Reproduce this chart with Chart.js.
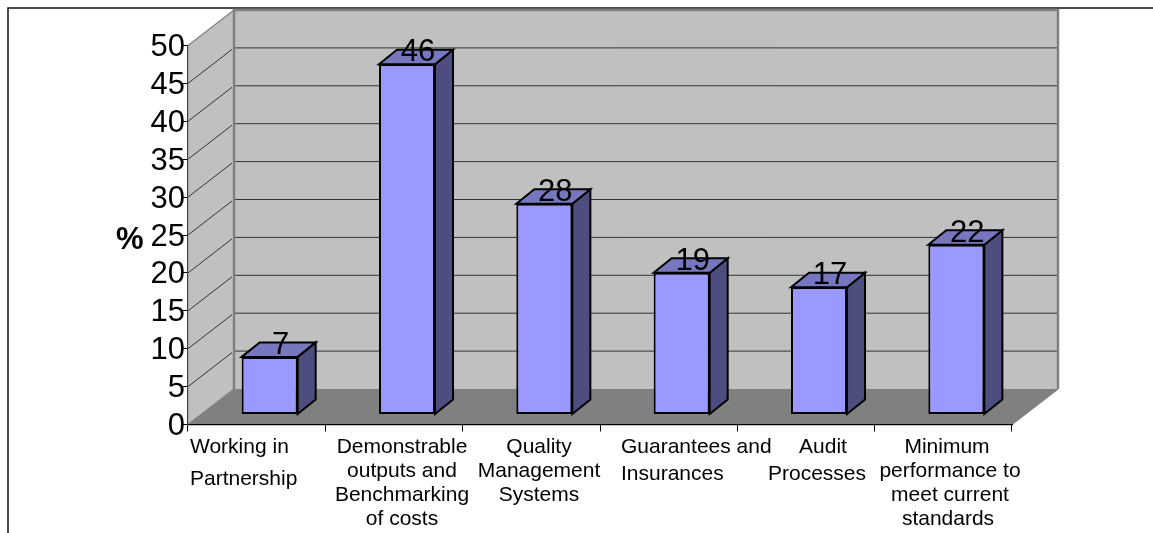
<!DOCTYPE html>
<html>
<head>
<meta charset="utf-8">
<style>
html, body { margin: 0; padding: 0; background: #fff; }
#wrap { position: absolute; left: 0; top: 0; width: 1153px; height: 533px; }
</style>
<script src="https://cdn.jsdelivr.net/npm/chart.js@4"></script>
</head>
<body>
<div id="wrap"><canvas id="chart"></canvas></div>
<script>
// labels, values
var categories = ["Working in Partnership", "Demonstrable outputs and Benchmarking of costs", "Quality Management Systems", "Guarantees and Insurances", "Audit Processes", "Minimum performance to meet current standards"];
var categoryLines = [
    ["Working in", "Partnership"],
    ["Demonstrable", "outputs and", "Benchmarking", "of costs"],
    ["Quality", "Management", "Systems"],
    ["Guarantees and", "Insurances"],
    ["Audit", "Processes"],
    ["Minimum", "performance to", "meet current", "standards"]
];
var barValues = [7.6, 46.2, 27.8, 18.7, 16.8, 22.4];
var valueLabels = ["7", "46", "28", "19", "17", "22"];
var yTicks = [0, 5, 10, 15, 20, 25, 30, 35, 40, 45, 50];
var yUnit = "%";

// per category text placement, the original has uneven wrapping
var labelLayout = [
    { x: [190, 190], align: "left", lineHeight: 32 },
    { x: [402, 402, 402, 402], align: "center", lineHeight: 24 },
    { x: [539, 539, 539], align: "center", lineHeight: 24 },
    { x: [621, 621], align: "left", lineHeight: 27.5 },
    { x: [823, 817], align: "center", lineHeight: 27.5 },
    { x: [947, 950, 950, 948], align: "center", lineHeight: 24 }
];

var FONT = '"Liberation Sans", Arial, sans-serif';
var WALL_DX = 46, WALL_DY = -35.5;   // floor depth
var BAR_DX = 13, BAR_DY = -10;       // bars sit inside the floor
var SIDE_DX = 18, SIDE_DY = -14.5;   // depth of one bar

function poly(ctx, pts, fill, stroke, lw) {
    ctx.beginPath();
    pts.forEach(function(p, i) {
        if (i == 0) ctx.moveTo(p[0], p[1]);
        else ctx.lineTo(p[0], p[1]);
    });
    ctx.closePath();
    if (fill) {
        ctx.fillStyle = fill;
        ctx.fill();
    }
    if (stroke) {
        ctx.strokeStyle = stroke;
        ctx.lineWidth = lw;
        ctx.stroke();
    }
}

var box3d = {
    id: "box3d",
    afterUpdate: function(chart) {
        // tick numbers sit a little under their ticks in the original
        chart.scales.y.getLabelItems().forEach(function(item) {
            item.options.translation[1] += 2;
        });
    },
    beforeDraw: function(chart) {
        var ctx = chart.ctx, a = chart.chartArea, y = chart.scales.y;
        var l = a.left, r = a.right, t = y.getPixelForValue(50), b = y.getPixelForValue(0);
        ctx.save();

        // page frame
        ctx.strokeStyle = "#111";
        ctx.lineWidth = 1.5;
        ctx.beginPath();
        ctx.moveTo(8, 533);
        ctx.lineTo(8, 8);
        ctx.lineTo(1153, 8);
        ctx.stroke();

        // walls and floor
        poly(ctx, [[l + WALL_DX, t + WALL_DY], [r + WALL_DX, t + WALL_DY], [r + WALL_DX, b + WALL_DY], [l + WALL_DX, b + WALL_DY]], "#c0c0c0");
        poly(ctx, [[l, t], [l + WALL_DX, t + WALL_DY], [l + WALL_DX, b + WALL_DY], [l, b]], "#c0c0c0");
        poly(ctx, [[l, b], [l + WALL_DX, b + WALL_DY], [r + WALL_DX, b + WALL_DY], [r, b]], "#808080");

        // grid on the walls
        yTicks.forEach(function(v) {
            if (v == 0 || v == 50) return;
            var py = y.getPixelForValue(v);
            ctx.strokeStyle = "#333";
            ctx.lineWidth = 1;
            ctx.beginPath();
            ctx.moveTo(l, py);
            ctx.lineTo(l + WALL_DX - 2, py + WALL_DY + 1.5);
            ctx.moveTo(l + WALL_DX, py + WALL_DY);
            ctx.lineTo(r + WALL_DX, py + WALL_DY);
            ctx.stroke();
        });

        // wall edges
        ctx.strokeStyle = "#808080";
        ctx.lineWidth = 2.5;
        ctx.beginPath();
        ctx.moveTo(l + WALL_DX, b + WALL_DY);
        ctx.lineTo(l + WALL_DX, t + WALL_DY);
        ctx.lineTo(r + WALL_DX, t + WALL_DY);
        ctx.lineTo(r + WALL_DX, b + WALL_DY);
        ctx.stroke();
        ctx.lineWidth = 1.2;
        ctx.beginPath();
        ctx.moveTo(l, t);
        ctx.lineTo(l + WALL_DX, t + WALL_DY);
        ctx.moveTo(l, b);
        ctx.lineTo(l + WALL_DX, b + WALL_DY);
        ctx.moveTo(r, b);
        ctx.lineTo(r + WALL_DX, b + WALL_DY);
        ctx.stroke();
        ctx.restore();
    },
    beforeDatasetsDraw: function(chart) {
        var ctx = chart.ctx;
        ctx.save();
        ctx.translate(BAR_DX, BAR_DY);
        ctx.lineJoin = "miter";
        // faces behind the front one
        chart.getDatasetMeta(0).data.forEach(function(bar) {
            var p = bar.getProps(["x", "y", "base", "width"], true);
            var x0 = p.x - p.width / 2, x1 = p.x + p.width / 2;
            poly(ctx, [[x1, p.y], [x1 + SIDE_DX, p.y + SIDE_DY], [x1 + SIDE_DX, p.base + SIDE_DY], [x1, p.base]], "#4d4d80", "#000", 2);
            poly(ctx, [[x0, p.y], [x0 + SIDE_DX, p.y + SIDE_DY], [x1 + SIDE_DX, p.y + SIDE_DY], [x1, p.y]], "#7777bf", "#000", 2);
        });
    },
    afterDatasetsDraw: function(chart) {
        var ctx = chart.ctx;
        // value labels, still inside the bar shift
        ctx.fillStyle = "#000";
        ctx.font = "31px " + FONT;
        ctx.textAlign = "center";
        ctx.textBaseline = "middle";
        chart.getDatasetMeta(0).data.forEach(function(bar, i) {
            var p = bar.getProps(["x", "y"], true);
            ctx.fillText(valueLabels[i], p.x + 11, p.y - 11.5);
        });
        ctx.restore();

        // category labels
        var b = chart.scales.y.getPixelForValue(0);
        ctx.save();
        ctx.fillStyle = "#000";
        ctx.font = "21px " + FONT;
        ctx.textBaseline = "middle";
        categoryLines.forEach(function(lines, i) {
            var lay = labelLayout[i];
            ctx.textAlign = lay.align;
            lines.forEach(function(line, j) {
                ctx.fillText(line, lay.x[j], b + 22.5 + j * lay.lineHeight);
            });
        });

        // unit next to the axis
        ctx.font = "bold 31px " + FONT;
        ctx.textAlign = "left";
        ctx.fillText(yUnit, 116, chart.scales.y.getPixelForValue(25) + 5);
        ctx.restore();
    }
};

var chart = new Chart(document.getElementById("chart"), {
    type: "bar",
    data: {
        labels: categories,
        datasets: [{
            data: barValues,
            backgroundColor: "#9999ff",
            borderColor: "#000",
            borderWidth: 2,
            borderSkipped: false,
            barPercentage: 0.408,
            categoryPercentage: 1,
            clip: false
        }]
    },
    options: {
        responsive: true,
        maintainAspectRatio: false,
        animation: false,
        events: [],
        layout: { padding: { top: 45.5, right: 141, left: 0, bottom: 0 } },
        plugins: {
            legend: { display: false },
            title: { display: false },
            tooltip: { enabled: false }
        },
        scales: {
            x: {
                grid: { drawOnChartArea: false, color: "#000", tickLength: 7, offset: true },
                border: { color: "#000", width: 1.2 },
                ticks: { display: false },
                afterFit: function(scale) { scale.height = 108.5; }
            },
            y: {
                min: 0,
                max: 50,
                afterBuildTicks: function(scale) {
                    scale.ticks = yTicks.map(function(v) { return { value: v }; });
                },
                grid: { drawOnChartArea: false, color: "#000", tickLength: 5 },
                border: { color: "#404040", width: 1.2 },
                ticks: {
                    color: "#000",
                    padding: -2,
                    autoSkip: false,
                    font: { family: FONT, size: 31 }
                },
                afterFit: function(scale) { scale.width = 188; }
            }
        }
    },
    plugins: [box3d]
});
</script>
</body>
</html>
